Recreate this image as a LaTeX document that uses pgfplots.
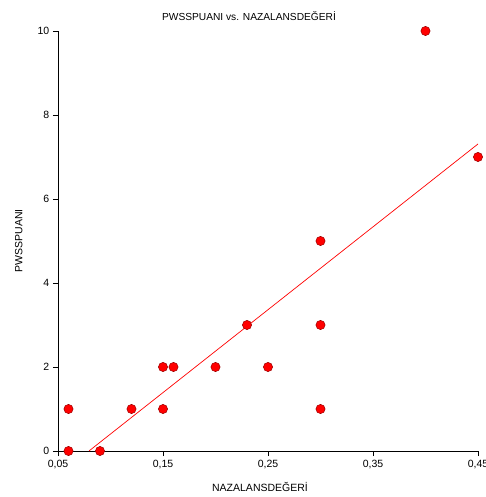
\documentclass[border=0pt]{standalone}
\usepackage{pgfplots}
\pgfplotsset{compat=1.18}
\usepackage{fontspec}
\setmainfont{Liberation Sans}
\usetikzlibrary{calc}
\begin{document}
\fontsize{10.5pt}{12pt}\selectfont
\begin{tikzpicture}
\begin{axis}[
  scale only axis,
  width=420pt, height=420pt,
  xmin=0.05, xmax=0.45, ymin=0, ymax=10,
  axis x line*=bottom, axis y line*=left,
  axis line style={black, line width=0.9pt, -},
  xtick={0.05,0.15,0.25,0.35,0.45},
  ytick={0,2,4,6,8,10},
  xticklabels={{0,05},{0,15},{0,25},{0,35},{0,45}},
  tick align=outside,
  major tick length=5pt,
  tick style={black, line width=0.9pt},
  minor tick num=0,
  /pgf/number format/assume math mode=true,
  ticklabel style={font=\fontsize{10.5pt}{12pt}\selectfont},
  xlabel={NAZALANSDEĞERİ},
  ylabel={PWSSPUANI},
  label style={font=\fontsize{10.5pt}{12pt}\selectfont},
  xlabel style={yshift=-7pt, xshift=-8pt},
  ylabel style={yshift=8pt},
  title={PWSSPUANI vs. NAZALANSDEĞERİ},
  title style={font=\fontsize{10.2pt}{12pt}\selectfont, yshift=1pt, xshift=-19pt},
  clip=false,
]
\addplot[red, line width=0.7pt, no marks] coordinates {(0.0795,0) (0.45,7.31)};
\addplot[only marks, mark=*, mark size=4.6pt, mark options={fill=red, draw=red!60!black, line width=0.5pt}] coordinates {
(0.06,1) (0.06,0) (0.09,0) (0.12,1) (0.15,1) (0.15,2) (0.16,2) (0.2,2)
(0.23,3) (0.25,2) (0.3,5) (0.3,3) (0.3,1) (0.4,10) (0.45,7)};
\end{axis}
\pgfresetboundingbox
\path ($(current axis.south west)+(-58pt,-46pt)$) rectangle ($(current axis.north east)+(8pt,31pt)$);
\end{tikzpicture}
\end{document}
